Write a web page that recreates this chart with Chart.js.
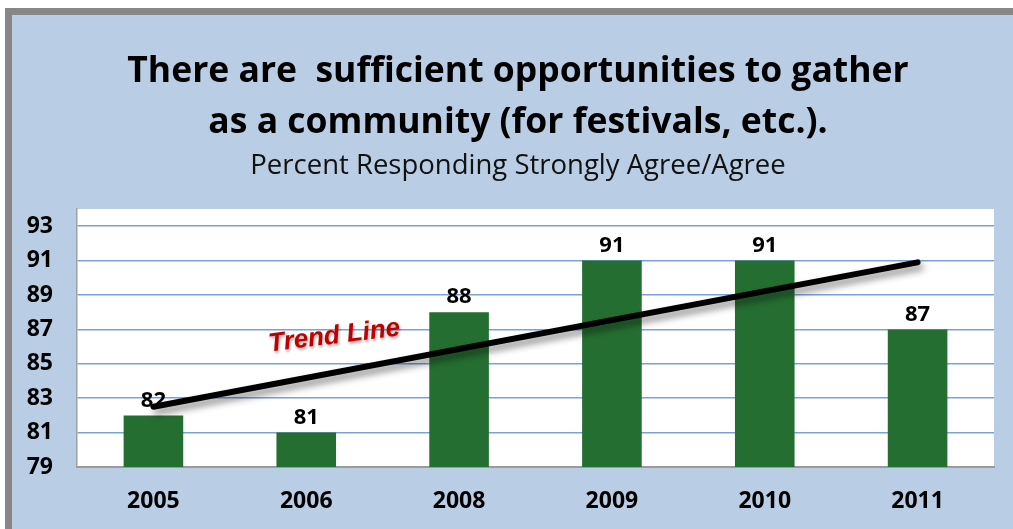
<!DOCTYPE html>
<html>
<head>
<meta charset="utf-8">
<script src="https://cdn.jsdelivr.net/npm/chart.js@4/dist/chart.umd.min.js"></script>
<style>
  html, body { margin: 0; padding: 0; background: #fff; }
  #frame {
    position: absolute; left: 5px; top: 8px; width: 1008px; height: 521px;
    border-top: 7px solid #878787; border-left: 7px solid #878787;
    background: #b9cde4; box-sizing: border-box;
  }
  #wrap { position: absolute; left: 0; top: 0; width: 1001px; height: 514px; }
</style>
</head>
<body>
<div id="frame"><div id="wrap"><canvas id="chart"></canvas></div></div>
<script>
const years = ['2005', '2006', '2008', '2009', '2010', '2011'];
const percentAgree = [82, 81, 88, 91, 91, 87];
// trend line end points (first and last year)
const trendStart = 82.5;
const trendEnd = 90.9;
const yTicks = [79, 81, 83, 85, 87, 89, 91, 93];

const trendData = years.map((y, i) => i === 0 ? trendStart : (i === years.length - 1 ? trendEnd : null));

// white plot area
const plotBg = {
  id: 'plotBg',
  beforeDraw(chart) {
    const { ctx, chartArea: a } = chart;
    ctx.save();
    ctx.fillStyle = '#ffffff';
    ctx.fillRect(a.left, a.top, a.right - a.left, a.bottom - a.top);
    ctx.restore();
  }
};

// soft shadow under the trend line
const lineShadow = {
  id: 'lineShadow',
  beforeDatasetDraw(chart, args) {
    if (args.index !== 1) return;
    const ctx = chart.ctx;
    ctx.save();
    ctx.shadowColor = 'rgba(0,0,0,0.45)';
    ctx.shadowBlur = 7;
    ctx.shadowOffsetX = 3;
    ctx.shadowOffsetY = 5;
  },
  afterDatasetDraw(chart, args) {
    if (args.index !== 1) return;
    chart.ctx.restore();
  }
};

// value labels above the bars and the "Trend Line" note
const labels = {
  id: 'labels',
  afterDatasetsDraw(chart) {
    const ctx = chart.ctx;
    const meta = chart.getDatasetMeta(0);
    ctx.save();
    ctx.font = 'bold 22px "Open Sans"';
    ctx.fillStyle = '#000';
    ctx.textAlign = 'center';
    ctx.textBaseline = 'bottom';
    meta.data.forEach((bar, i) => {
      ctx.fillText(percentAgree[i], bar.x, bar.y - 4);
    });
    ctx.restore();
  },
  afterDraw(chart) {
    const ctx = chart.ctx;
    const x = chart.scales.x.getPixelForValue(1) + 28;
    const y = chart.scales.y.getPixelForValue(86.6);
    ctx.save();
    ctx.translate(x, y);
    ctx.rotate(-7 * Math.PI / 180);
    ctx.font = 'italic bold 26px "Liberation Sans"';
    ctx.textAlign = 'center';
    ctx.textBaseline = 'middle';
    ctx.shadowColor = 'rgba(0,0,0,0.35)';
    ctx.shadowBlur = 3;
    ctx.shadowOffsetX = 1;
    ctx.shadowOffsetY = 2;
    ctx.fillStyle = '#c00000';
    ctx.fillText('Trend Line', 0, 0);
    ctx.restore();
  }
};

const ctx = document.getElementById('chart').getContext('2d');
const chart = new Chart(ctx, {
  data: {
    labels: years,
    datasets: [
      {
        type: 'bar',
        label: 'Percent',
        data: percentAgree,
        backgroundColor: '#256e31',
        barPercentage: 0.39,
        categoryPercentage: 1,
        order: 2
      },
      {
        type: 'line',
        label: 'Trend',
        data: trendData,
        borderColor: '#000',
        borderWidth: 6,
        borderCapStyle: 'round',
        pointRadius: 0,
        spanGaps: true,
        order: 1
      }
    ]
  },
  options: {
    responsive: true,
    maintainAspectRatio: false,
    animation: false,
    layout: { padding: { left: 11, right: 0, top: 0, bottom: 0 } },
    plugins: {
      legend: { display: false },
      tooltip: { enabled: false },
      title: {
        display: true,
        text: ['There are  sufficient opportunities to gather', 'as a community (for festivals, etc.).'],
        color: '#000',
        font: { family: 'Open Sans', size: 35.5, weight: 'bold', lineHeight: 1.437 },
        padding: { top: 31, bottom: 1.5 }
      },
      subtitle: {
        display: true,
        text: 'Percent Responding Strongly Agree/Agree',
        color: '#111',
        font: { family: 'Open Sans', size: 27.5, lineHeight: 1.2 },
        padding: { top: 0, bottom: 26.5 }
      }
    },
    scales: {
      x: {
        grid: { display: false, drawTicks: false },
        border: { color: '#9a9a9a', width: 2 },
        ticks: { color: '#000', font: { family: 'Open Sans', size: 23, weight: 'bold' }, padding: 21 },
        afterFit(scale) { scale.height = 62; }
      },
      y: {
        min: 79,
        max: 94,
        afterBuildTicks(axis) { axis.ticks = yTicks.map(v => ({ value: v })); },
        grid: { color: '#79a2d6', lineWidth: 1.5, drawTicks: false },
        border: { color: '#a0a0a0', width: 1.5 },
        ticks: { color: '#000', font: { family: 'Open Sans', size: 23, weight: 'bold' }, padding: 24 },
        afterFit(scale) { scale.width = 54; }
      },
      // empty strip to the right of the plot
      yRight: {
        position: 'right',
        display: true,
        grid: { display: false, drawTicks: false },
        border: { display: false },
        ticks: { display: false },
        afterFit(scale) { scale.width = 19; }
      }
    }
  },
  plugins: [plotBg, lineShadow, labels]
});
</script>
</body>
</html>
